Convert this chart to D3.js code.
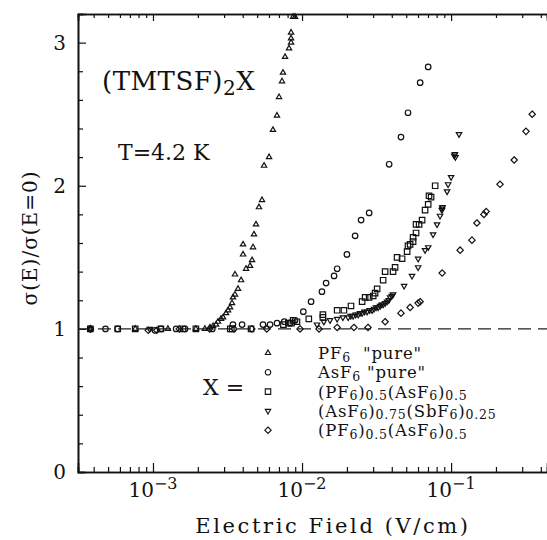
<!DOCTYPE html>
<html>
<head>
<meta charset="utf-8">
<title>sigma(E)</title>
<script src="https://cdn.jsdelivr.net/npm/d3@7"></script>
<style>
body{margin:0;background:#fff}
text{font-family:"DejaVu Serif",serif;fill:#111;white-space:pre}
</style>
</head>
<body>
<script>
// E (V/cm), sigma(E)/sigma(E=0)
var pf6Pure = [[0.00038,1.0],[0.00076,1.0],[0.00126,1.0],[0.00194,1.0],[0.00223,1.0],
  [0.00241,1.01],[0.00253,1.02],[0.00265,1.03],[0.00273,1.05],[0.00286,1.07],[0.00295,1.08],
  [0.00309,1.11],[0.00319,1.13],[0.00329,1.15],[0.00339,1.18],[0.00344,1.22],[0.00355,1.24],
  [0.00372,1.28],[0.00390,1.34],[0.00355,1.38],[0.00421,1.42],[0.00448,1.44],[0.00462,1.48],
  [0.00402,1.52],[0.00469,1.57],[0.00402,1.59],[0.00476,1.66],[0.00491,1.73],[0.00514,1.85],
  [0.00539,1.90],[0.00556,2.14],[0.00601,2.20],[0.00638,2.39],[0.00679,2.49],[0.00701,2.62],
  [0.00734,2.73],[0.00745,2.79],[0.00769,2.90],[0.00818,2.96],[0.00844,3.00],[0.00844,3.03],
  [0.00844,3.07],[0.00871,3.18],[0.00898,3.18]]

var asf6Pure = [[0.00038,1.0],[0.00048,1.0],[0.00058,1.0],[0.00103,0.99],[0.00113,1.0],[0.00143,1.0],
  [0.00164,1.0],[0.0025,1.0],[0.00344,1.03],[0.00396,1.03],[0.00547,1.03],[0.0061,1.03],
  [0.00679,1.04],[0.0076,1.05],[0.0083,1.04],[0.00898,1.06],[0.0102,1.12],[0.0115,1.19],
  [0.0136,1.26],[0.0145,1.32],[0.0164,1.37],[0.0172,1.42],[0.0200,1.52],[0.0227,1.65],
  [0.0249,1.76],[0.0282,1.81],[0.0384,2.15],[0.0461,2.34],[0.0514,2.51],[0.0620,2.72],[0.0702,2.83]]

var pfAsMix1 = [[0.00038,1.0],[0.00058,1.0],[0.00076,1.0],[0.00113,1.0],[0.00159,1.0],[0.00194,1.0],
  [0.0033,1.0],[0.0034,1.0],[0.00455,1.0],[0.0075,1.03],[0.0081,1.04],[0.0085,1.04],[0.00871,1.06],
  [0.00925,1.05],[0.0111,1.07],[0.0138,1.08],[0.0138,1.10],[0.0172,1.13],[0.0191,1.13],[0.0213,1.16],
  [0.0253,1.19],[0.0265,1.22],[0.0282,1.22],[0.0300,1.23],[0.0309,1.25],[0.0319,1.28],[0.0350,1.34],
  [0.0361,1.40],[0.0408,1.40],[0.0421,1.43],[0.0434,1.50],[0.0469,1.49],[0.0507,1.54],[0.0514,1.58],
  [0.0531,1.59],[0.0556,1.61],[0.0556,1.64],[0.0582,1.67],[0.0610,1.73],[0.0582,1.73],[0.0639,1.76],
  [0.0669,1.83],[0.0702,1.87],[0.0711,1.93],[0.0734,1.92],[0.0782,2.00]]

var asSbMix = [[0.00038,1.0],[0.00095,1.0],[0.0126,1.03],[0.0140,1.05],[0.0154,1.06],[0.0172,1.07],
  [0.0188,1.08],[0.0204,1.08],[0.0212,1.09],[0.0220,1.09],[0.0229,1.10],[0.0238,1.10],[0.0245,1.11],
  [0.0253,1.11],[0.0262,1.12],[0.0273,1.12],[0.0284,1.13],[0.0295,1.13],[0.0304,1.14],[0.0314,1.15],
  [0.0324,1.15],[0.0334,1.16],[0.0342,1.17],[0.0350,1.17],[0.0361,1.18],[0.0372,1.19],[0.0382,1.20],
  [0.0390,1.22],[0.0400,1.23],[0.0408,1.24],[0.0484,1.30],[0.0547,1.37],[0.0601,1.43],[0.0601,1.49],
  [0.0669,1.55],[0.0702,1.57],[0.0757,1.66],[0.0805,1.73],[0.0843,1.79],[0.0871,1.84],[0.0875,1.85],
  [0.0868,1.83],[0.0940,1.96],[0.0955,2.01],[0.100,2.06],[0.106,2.22],[0.105,2.21],[0.107,2.20],[0.113,2.36]]

var pfAsMix2 = [[0.00038,1.0],[0.00093,0.99],[0.00106,0.99],[0.0015,1.0],[0.0024,1.0],[0.0035,1.0],
  [0.0046,1.0],[0.0058,1.0],[0.0097,1.0],[0.0130,1.0],[0.0172,1.01],[0.0223,1.01],[0.0277,1.01],
  [0.0361,1.05],[0.0461,1.11],[0.0531,1.15],[0.0601,1.18],[0.0620,1.19],[0.0871,1.39],[0.115,1.55],
  [0.138,1.62],[0.149,1.74],[0.166,1.80],[0.172,1.82],[0.213,2.01],[0.265,2.18],[0.318,2.38],[0.350,2.50]]

var legendLabels = ['PF_{6}  "pure"', 'AsF_{6} "pure"', '(PF_{6})_{0.5}(AsF_{6})_{0.5}',
  '(AsF_{6})_{0.75}(SbF_{6})_{0.25}', '(PF_{6})_{0.5}(AsF_{6})_{0.5}']
var xMajor = [1e-3, 1e-2, 1e-1]
var xMajorLabels = ['10^{−3}', '10^{−2}', '10^{−1}']
var yMajor = [0, 1, 2, 3]
var yMinor = [0.2,0.4,0.6,0.8,1.2,1.4,1.6,1.8,2.2,2.4,2.6,2.8,3.2]

var W = 547, H = 540
var svg = d3.select("body").append("svg").attr("width", W).attr("height", H)
var x = d3.scaleLog().domain([3.14e-4, 0.44]).range([78, 547])
var y = d3.scaleLinear().domain([0, 3.2]).range([472, 14])

var xMinor = []
;[1e-4, 1e-3, 1e-2, 1e-1].forEach(function(dec){
  for (var m = 2; m <= 9; m++){ var v = m*dec; if (v > 3.14e-4 && v < 0.44) xMinor.push(v) }
})

// text with _{sub} and ^{sup}
function rich(t, s, small, sub, sup){
  var re = /([_^])\{([^}]*)\}/g, last = 0, shift = 0, m
  while ((m = re.exec(s))){
    if (m.index > last){ t.append("tspan").attr("dy", -shift).text(s.slice(last, m.index)); shift = 0 }
    var d = m[1] == "_" ? sub : -sup
    t.append("tspan").attr("dy", d - shift).attr("font-size", small).text(m[2])
    shift = d
    last = re.lastIndex
  }
  if (last < s.length) t.append("tspan").attr("dy", -shift).text(s.slice(last))
}

// axes: bottom, top, left
svg.append("g").attr("transform", "translate(0,472)")
  .call(d3.axisBottom(x).tickValues(xMinor).tickSize(-5).tickFormat(""))
svg.append("g").attr("transform", "translate(0,472)")
  .call(d3.axisBottom(x).tickValues(xMajor).tickSize(-9).tickFormat(""))
svg.append("g").attr("transform", "translate(0,14)")
  .call(d3.axisTop(x).tickValues(xMinor).tickSize(-4).tickFormat(""))
svg.append("g").attr("transform", "translate(0,14)")
  .call(d3.axisTop(x).tickValues(xMajor).tickSize(-7).tickFormat(""))
svg.append("g").attr("transform", "translate(78,0)")
  .call(d3.axisLeft(y).tickValues(yMinor).tickSize(-5).tickFormat(""))
svg.append("g").attr("transform", "translate(78,0)")
  .call(d3.axisLeft(y).tickValues(yMajor).tickSize(-8).tickPadding(12).tickFormat(d3.format("d")))
svg.selectAll(".domain").attr("stroke", "#111").attr("stroke-width", 1.6)
svg.selectAll(".tick line").attr("stroke", "#111").attr("stroke-width", 1.2)
svg.selectAll(".tick text").attr("font-size", 20).attr("font-family", "DejaVu Serif").attr("fill", "#111")

xMajor.forEach(function(v, i){
  var t = svg.append("text").attr("x", x(v)).attr("y", 497)
    .attr("text-anchor", "middle").attr("font-size", 20)
  rich(t, xMajorLabels[i], 16, 0, 8)
})

// reference line sigma = 1
svg.append("line")
  .attr("x1", x(3.14e-4)).attr("x2", x(0.44)).attr("y1", y(1)).attr("y2", y(1))
  .attr("stroke", "#222").attr("stroke-width", 1.1).attr("stroke-dasharray", "13,7")

var triDown = {draw: function(ctx, size){
  var r = Math.sqrt(size) * 0.6824, t = r/2, u = r*Math.sqrt(3)/2
  ctx.moveTo(0, r); ctx.lineTo(u, -t); ctx.lineTo(-u, -t); ctx.closePath()
}}
var series = [
  {data: pf6Pure, type: d3.symbolTriangle2, size: 20},
  {data: asf6Pure, type: d3.symbolCircle, size: 24},
  {data: pfAsMix1, type: d3.symbolSquare2, size: 38},
  {data: asSbMix, type: triDown, size: 21},
  {data: pfAsMix2, type: d3.symbolDiamond2, size: 26}
]

series.forEach(function(s){
  var sym = d3.symbol().type(s.type).size(s.size)
  svg.append("g").selectAll("path")
    .data(s.data.filter(function(d){ return d[1] <= 3.2 }))
    .enter().append("path")
    .attr("d", sym)
    .attr("transform", function(d){ return "translate(" + x(d[0]) + "," + y(d[1]) + ")" })
    .attr("fill", "none").attr("stroke", "#111").attr("stroke-width", 1.2)
})

// legend
var leg = svg.append("g")
leg.append("text").attr("x", 203).attr("y", 395).attr("font-size", 22).text("X =")
series.forEach(function(s, i){
  var sym = d3.symbol().type(s.type).size(s.size)
  leg.append("path").attr("d", sym)
    .attr("transform", "translate(268," + (353 + i*19.3) + ")")
    .attr("fill", "none").attr("stroke", "#111").attr("stroke-width", 1.1)
  var t = leg.append("text").attr("x", 318).attr("y", 359 + i*19.3)
    .attr("font-size", 16.5).attr("letter-spacing", 0.8)
  rich(t, legendLabels[i], 12.5, 2.5, 0)
})

// annotations
var title = svg.append("text").attr("x", 102).attr("y", 90).attr("font-size", 26).attr("letter-spacing", 0.5)
rich(title, "(TMTSF)_{2}X", 20, 5, 0)
svg.append("text").attr("x", 118).attr("y", 160).attr("font-size", 22).text("T=4.2 K")

svg.append("text").attr("transform", "translate(37,238) rotate(-90)")
  .attr("text-anchor", "middle").attr("font-size", 20).attr("letter-spacing", 1)
  .text("σ(E)/σ(E=0)")
svg.append("text").attr("x", 333).attr("y", 533)
  .attr("text-anchor", "middle").attr("font-size", 21).attr("letter-spacing", 2.6)
  .text("Electric Field (V/cm)")
</script>
</body>
</html>
